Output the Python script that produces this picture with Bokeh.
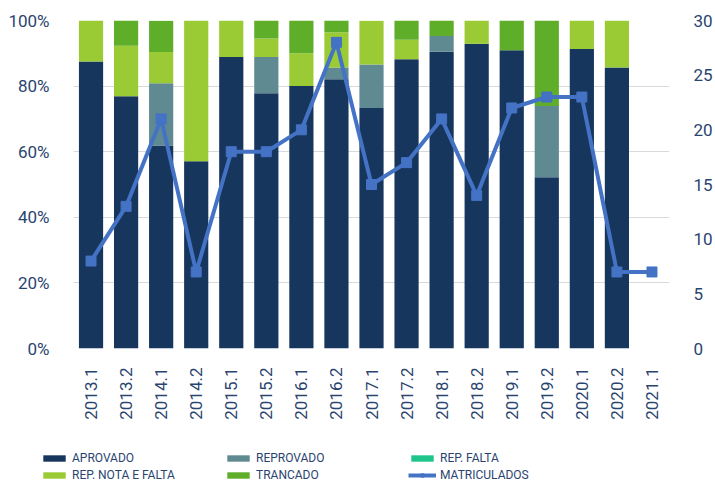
from bokeh.plotting import figure
from bokeh.layouts import column
from bokeh.models import (Range1d, FactorRange, LinearAxis, FixedTicker,
                          PrintfTickFormatter, Legend, LegendItem, ColumnDataSource)
from bokeh.embed import file_html
from bokeh.resources import INLINE

semesters = ["2013.1", "2013.2", "2014.1", "2014.2", "2015.1", "2015.2", "2016.1",
             "2016.2", "2017.1", "2017.2", "2018.1", "2018.2", "2019.1", "2019.2",
             "2020.1", "2020.2", "2021.1"]
aprovado = [87.5, 76.9, 61.9, 57.1, 88.9, 77.8, 80.0, 82.1, 73.3, 88.2, 90.5, 92.9, 90.9, 52.2, 91.3, 85.7, 0]
reprovado = [0, 0, 19.0, 0, 0, 11.1, 0, 3.6, 13.3, 0, 4.8, 0, 0, 21.7, 0, 0, 0]
rep_falta = [0] * 17
rep_nota_falta = [12.5, 15.4, 9.5, 42.9, 11.1, 5.6, 10.0, 10.7, 13.3, 5.9, 0, 7.1, 0, 0, 8.7, 14.3, 0]
trancado = [0, 7.7, 9.5, 0, 0, 5.6, 10.0, 3.6, 0, 5.9, 4.8, 0, 9.1, 26.1, 0, 0, 0]
matriculados = [8, 13, 21, 7, 18, 18, 20, 28, 15, 17, 21, 14, 22, 23, 23, 7, 7]

left_ticks = [0, 20, 40, 60, 80, 100]
right_ticks = [0, 5, 10, 15, 20, 25, 30]

series = ["aprovado", "reprovado", "rep_falta", "rep_nota_falta", "trancado"]
labels = ["APROVADO", "REPROVADO", "REP. FALTA", "REP. NOTA E FALTA", "TRANCADO", "MATRICULADOS"]
colors = ["#17365d", "#5f8a92", "#1fc48a", "#9bcb34", "#5fae2a"]
line_color = "#4472c4"
text_color = "#2a4470"

src = ColumnDataSource(dict(sem=semesters, aprovado=aprovado, reprovado=reprovado,
                            rep_falta=rep_falta, rep_nota_falta=rep_nota_falta,
                            trancado=trancado, matriculados=matriculados))

p = figure(width=715, height=448, output_backend="svg", toolbar_location=None,
           x_range=FactorRange(*semesters), y_range=Range1d(0, 100),
           min_border_left=73, min_border_right=42, min_border_top=20, min_border_bottom=100)
p.extra_y_ranges = {"right": Range1d(0, 30)}

bars = p.vbar_stack(series, x="sem", width=0.69, source=src, color=colors, line_width=0)
ln = p.line(x="sem", y="matriculados", source=src, y_range_name="right",
            line_color=line_color, line_width=4)
mk = p.scatter(x="sem", y="matriculados", source=src, y_range_name="right",
               marker="square", size=10, color=line_color)

p.outline_line_color = None
p.xgrid.grid_line_color = None
p.ygrid.ticker = FixedTicker(ticks=left_ticks)
p.ygrid.grid_line_color = "#d9d9d9"
p.ygrid.grid_line_width = 1

la = p.yaxis[0]
la.ticker = FixedTicker(ticks=left_ticks)
la.formatter = PrintfTickFormatter(format="%d%%")

ra = LinearAxis(y_range_name="right", ticker=FixedTicker(ticks=right_ticks))
p.add_layout(ra, "right")

for ax in [la, ra, p.xaxis[0]]:
    ax.axis_line_color = None
    ax.major_tick_line_color = None
    ax.minor_tick_line_color = None
    ax.major_label_text_font = "Roboto"
    ax.major_label_text_color = text_color
    ax.major_label_text_font_size = "17px"
la.major_label_standoff = 18
ra.major_label_standoff = 18
xa = p.xaxis[0]
xa.major_label_orientation = 1.5708
xa.major_label_standoff = 13

# legend strip: a separate figure whose renderers reuse the same data but lie
# outside its visible range, so only the legend entries show
lg = figure(width=715, height=34, output_backend="svg", toolbar_location=None,
            x_range=FactorRange(*semesters), y_range=Range1d(1000, 1001),
            min_border_left=0, min_border_right=0, min_border_top=0, min_border_bottom=0,
            frame_align=False)
lg.axis.visible = False
lg.grid.visible = False
lg.outline_line_color = None
rends = [lg.vbar(x="sem", top=s, width=0.5, source=src, color=c, line_width=0)
         for s, c in zip(series, colors)]
lln = lg.line(x="sem", y="matriculados", source=src, line_color=line_color, line_width=4)
lmk = lg.scatter(x="sem", y="matriculados", source=src, marker="square", size=9, color=line_color)

items = [LegendItem(label=labels[i], renderers=[rends[i]]) for i in range(5)]
items.append(LegendItem(label=labels[5], renderers=[lln, lmk]))
# legend fills column by column: reorder so rows read as in the reference
ordered = [items[0], items[3], items[1], items[4], items[2], items[5]]
leg = Legend(items=ordered, ncols=3, location=(40, 0),
             glyph_width=28, glyph_height=8, label_standoff=4, label_width=150,
             label_height=15, spacing=2, padding=0, margin=0,
             label_text_font="Roboto", label_text_font_size="12px",
             label_text_color=text_color, background_fill_alpha=0,
             border_line_alpha=0)
lg.add_layout(leg, "center")

layout = column(p, lg, spacing=0)
open("out.html", "w").write(file_html(layout, INLINE))
